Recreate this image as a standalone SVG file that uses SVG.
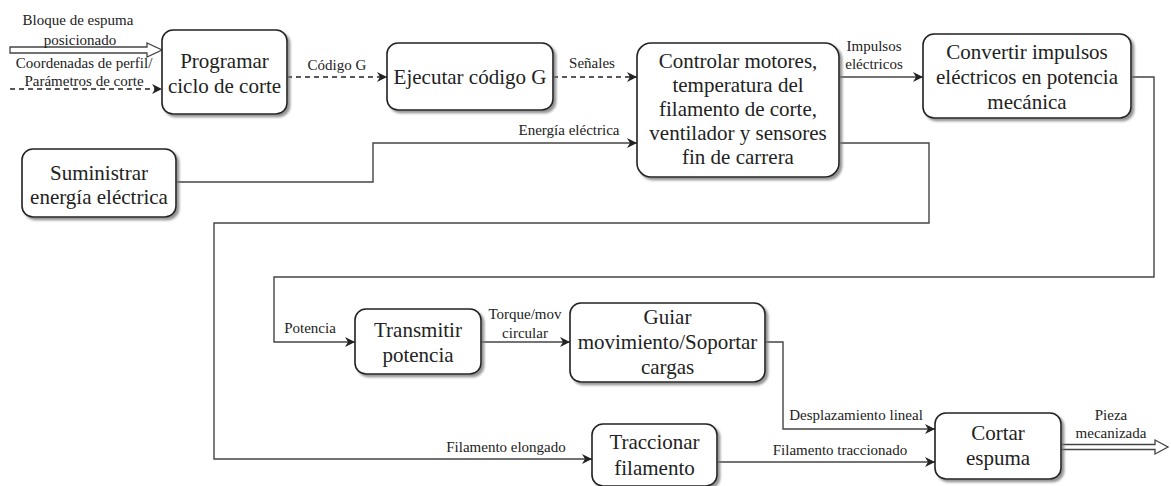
<svg xmlns="http://www.w3.org/2000/svg" width="1171" height="486" viewBox="0 0 1171 486">
<style>
.box{fill:#fff;stroke:#222;stroke-width:1.6}
.t{font-family:"Liberation Serif","Times New Roman",serif;font-size:21px;fill:#222;text-anchor:middle}
.l{font-family:"Liberation Serif","Times New Roman",serif;font-size:15px;fill:#222;text-anchor:middle}
.c{fill:none;stroke:#444;stroke-width:1.4}
.d{fill:none;stroke:#222;stroke-width:1.4;stroke-dasharray:5 4}
.h{fill:#fff;stroke:#444;stroke-width:1.3}
</style>
<defs>
<marker id="a" viewBox="0 0 10 10" refX="10" refY="5" markerWidth="10" markerHeight="10" markerUnits="userSpaceOnUse" orient="auto">
<path d="M0,0 L10,5 L0,10 L3,5 z" fill="#222"/>
</marker>
<filter id="s" x="-10%" y="-10%" width="130%" height="130%">
<feDropShadow dx="2.5" dy="2.5" stdDeviation="1" flood-color="#777" flood-opacity="0.8"/>
</filter>
</defs>

<g id="connectors">
<path class="h" d="M10,47 L147,47 L147,43 L162,50 L147,57 L147,53 L10,53 z"/>
<line class="d" x1="10" y1="89" x2="162" y2="89" marker-end="url(#a)"/>
<line class="d" x1="287" y1="77" x2="387" y2="77" marker-end="url(#a)"/>
<line class="d" x1="553" y1="77" x2="637" y2="77" marker-end="url(#a)"/>
<line class="c" x1="839" y1="77" x2="923" y2="77" marker-end="url(#a)"/>
<polyline class="c" points="176,182 373,182 373,143 637,143" marker-end="url(#a)"/>
<polyline class="c" points="839,143 929,143 929,223 214,223 214,459 592,459" marker-end="url(#a)"/>
<polyline class="c" points="1131,77 1154,77 1154,277 274,277 274,342 355,342" marker-end="url(#a)"/>
<line class="c" x1="481" y1="342" x2="570" y2="342" marker-end="url(#a)"/>
<polyline class="c" points="765,342 783,342 783,429 935,429" marker-end="url(#a)"/>
<line class="c" x1="717" y1="462" x2="935" y2="462" marker-end="url(#a)"/>
<path class="h" d="M1061,444.5 L1155,444.5 L1155,440 L1168,447 L1155,454 L1155,449.5 L1061,449.5 z"/>

<text class="l" x="78" y="25">Bloque de espuma</text>
<text class="l" x="80" y="45">posicionado</text>
<text class="l" x="84" y="68">Coordenadas de perfil/</text>
<text class="l" x="84" y="86">Parámetros de corte</text>
<text class="l" x="337" y="70">Código G</text>
<text class="l" x="592" y="68">Señales</text>
<text class="l" x="874" y="51">Impulsos</text>
<text class="l" x="874" y="69">eléctricos</text>
<text class="l" x="569" y="135">Energía eléctrica</text>
<text class="l" x="310" y="333">Potencia</text>
<text class="l" x="525" y="319">Torque/mov</text>
<text class="l" x="525" y="338">circular</text>
<text class="l" x="856" y="420">Desplazamiento lineal</text>
<text class="l" x="840" y="455">Filamento traccionado</text>
<text class="l" x="506" y="452">Filamento elongado</text>
<text class="l" x="1111" y="420">Pieza</text>
<text class="l" x="1111" y="438">mecanizada</text>
</g>

<g id="programar">
<rect class="box" filter="url(#s)" x="162" y="30" width="125" height="84" rx="11"/>
<text class="t" x="224.5" y="68">Programar</text>
<text class="t" x="224.5" y="93">ciclo de corte</text>
</g>

<g id="ejecutar">
<rect class="box" filter="url(#s)" x="387" y="43" width="166" height="67" rx="11"/>
<text class="t" x="470" y="84">Ejecutar código G</text>
</g>

<g id="controlar">
<rect class="box" filter="url(#s)" x="637" y="43" width="202" height="134" rx="14"/>
<text class="t" x="738" y="68">Controlar motores,</text>
<text class="t" x="738" y="92">temperatura del</text>
<text class="t" x="738" y="116">filamento de corte,</text>
<text class="t" x="738" y="140">ventilador y sensores</text>
<text class="t" x="738" y="164">fin de carrera</text>
</g>

<g id="convertir">
<rect class="box" filter="url(#s)" x="923" y="34" width="208" height="84" rx="11"/>
<text class="t" x="1027" y="59">Convertir impulsos</text>
<text class="t" x="1027" y="84">eléctricos en potencia</text>
<text class="t" x="1027" y="109">mecánica</text>
</g>

<g id="suministrar">
<rect class="box" filter="url(#s)" x="22" y="149" width="154" height="68" rx="11"/>
<text class="t" x="99" y="180">Suministrar</text>
<text class="t" x="99" y="204">energía eléctrica</text>
</g>

<g id="transmitir">
<rect class="box" filter="url(#s)" x="355" y="309" width="126" height="65" rx="11"/>
<text class="t" x="418" y="337">Transmitir</text>
<text class="t" x="418" y="362">potencia</text>
</g>

<g id="guiar">
<rect class="box" filter="url(#s)" x="570" y="303" width="195" height="79" rx="11"/>
<text class="t" x="667.5" y="324">Guiar</text>
<text class="t" x="667.5" y="349">movimiento/Soportar</text>
<text class="t" x="667.5" y="374">cargas</text>
</g>

<g id="traccionar">
<rect class="box" filter="url(#s)" x="592" y="424" width="125" height="62" rx="11"/>
<text class="t" x="654.5" y="449">Traccionar</text>
<text class="t" x="654.5" y="475">filamento</text>
</g>

<g id="cortar">
<rect class="box" filter="url(#s)" x="935" y="413" width="126" height="66" rx="11"/>
<text class="t" x="998" y="440">Cortar</text>
<text class="t" x="998" y="465">espuma</text>
</g>
</svg>
